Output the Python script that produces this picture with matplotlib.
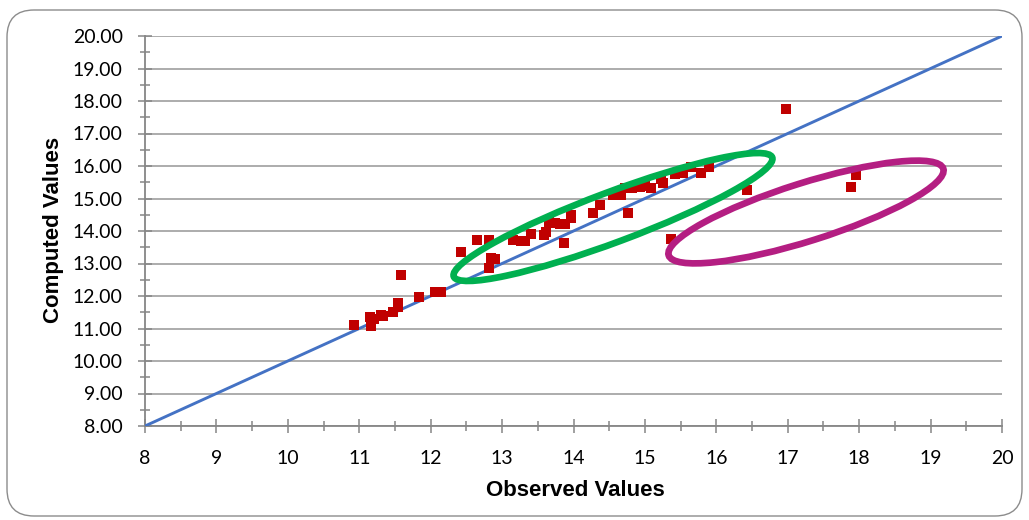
import matplotlib
matplotlib.use("Agg")
import matplotlib.pyplot as plt
from matplotlib.patches import Ellipse, FancyBboxPatch
from matplotlib.ticker import MultipleLocator, FormatStrFormatter

# observed / computed pairs
observed = [10.93, 11.15, 11.17, 11.20, 11.30, 11.33, 11.47, 11.54, 11.54, 11.59,
            11.83, 12.06, 12.15, 12.43, 12.65, 12.81, 12.81, 12.85, 12.90, 13.15,
            13.27, 13.32, 13.41, 13.58, 13.62, 13.65, 13.74, 13.81, 13.88, 13.97,
            13.97, 13.86, 14.27, 14.37, 14.55, 14.66, 14.72, 14.76, 14.82, 14.88,
            14.93, 15.00, 15.09, 15.23, 15.26, 15.42, 15.53, 15.65, 15.79, 15.90,
            16.43, 15.36, 16.97, 17.96, 17.89]
computed = [11.10, 11.36, 11.08, 11.28, 11.42, 11.38, 11.50, 11.77, 11.65, 12.66,
            11.97, 12.13, 12.13, 13.36, 13.72, 13.72, 12.86, 13.16, 13.13, 13.72,
            13.69, 13.69, 13.91, 13.88, 13.98, 14.27, 14.26, 14.22, 14.22, 14.49,
            14.39, 13.62, 14.54, 14.80, 15.10, 15.10, 15.31, 14.54, 15.33, 15.36,
            15.36, 15.38, 15.33, 15.59, 15.47, 15.76, 15.78, 15.98, 15.78, 15.98,
            15.26, 13.75, 17.74, 15.72, 15.34]

line_x = [8, 20]
line_y = [8, 20]

fig = plt.figure(figsize=(10.29, 5.20), dpi=100)
ax = fig.add_axes([145 / 1029, (520 - 426) / 520, (1002 - 145) / 1029, (426 - 36) / 520])

ax.plot(line_x, line_y, color="#4472C4", lw=2.1, zorder=3)
ax.scatter(observed, computed, marker="s", s=46, color="#C00000", lw=0, zorder=4)

ax.set_xlim(8, 20)
ax.set_ylim(8, 20)
ax.xaxis.set_major_locator(MultipleLocator(1))
ax.xaxis.set_minor_locator(MultipleLocator(0.5))
ax.yaxis.set_major_locator(MultipleLocator(1))
ax.yaxis.set_minor_locator(MultipleLocator(0.5))
ax.yaxis.set_major_formatter(FormatStrFormatter("%.2f"))
ax.xaxis.set_major_formatter(FormatStrFormatter("%d"))

ax.grid(axis="y", which="major", color="#A6A6A6", lw=1.3)
ax.set_axisbelow(True)
for s in ["top", "right"]:
    ax.spines[s].set_visible(False)
for s in ["left", "bottom"]:
    ax.spines[s].set_color("#868686")
    ax.spines[s].set_linewidth(1.3)

ax.tick_params(which="major", direction="inout", length=10, width=1.1, color="#868686",
               labelsize=14, labelcolor="black")
ax.tick_params(which="minor", direction="inout", length=6.5, width=1.1, color="#868686")
ax.tick_params(axis="y", which="major", pad=11)
ax.tick_params(axis="x", which="major", pad=12)
for lab in ax.get_xticklabels() + ax.get_yticklabels():
    lab.set_fontfamily("Lato")

fig.text(575 / 1029, (520 - 491) / 520, "Observed Values", ha="center", va="center",
         fontsize=16, fontweight="bold", family="Liberation Sans")
fig.text(54 / 1029, (520 - 230) / 520, "Computed Values", ha="center", va="center",
         rotation=90, fontsize=16, fontweight="bold", family="Liberation Sans")

# highlight ellipses, drawn in pixel space (inches * 100)
tr = fig.dpi_scale_trans
green = Ellipse((6.13, (520 - 217) / 100), width=3.40, height=0.50, angle=20.5,
                fill=False, ec="#00B050", lw=4.8, transform=tr, zorder=5)
magenta = Ellipse((8.06, (520 - 212) / 100), width=2.88, height=0.58, angle=17.5,
                  fill=False, ec="#B41E82", lw=4.8, transform=tr, zorder=5)
fig.add_artist(green)
fig.add_artist(magenta)

border = FancyBboxPatch((0.07 + 0.27, 0.04 + 0.27), 10.15 - 0.54, 5.06 - 0.54,
                        boxstyle="round,pad=0.27", fill=False, ec="#8C8C8C", lw=1.0,
                        transform=tr)
fig.add_artist(border)

fig.savefig("out.png", dpi=100)
